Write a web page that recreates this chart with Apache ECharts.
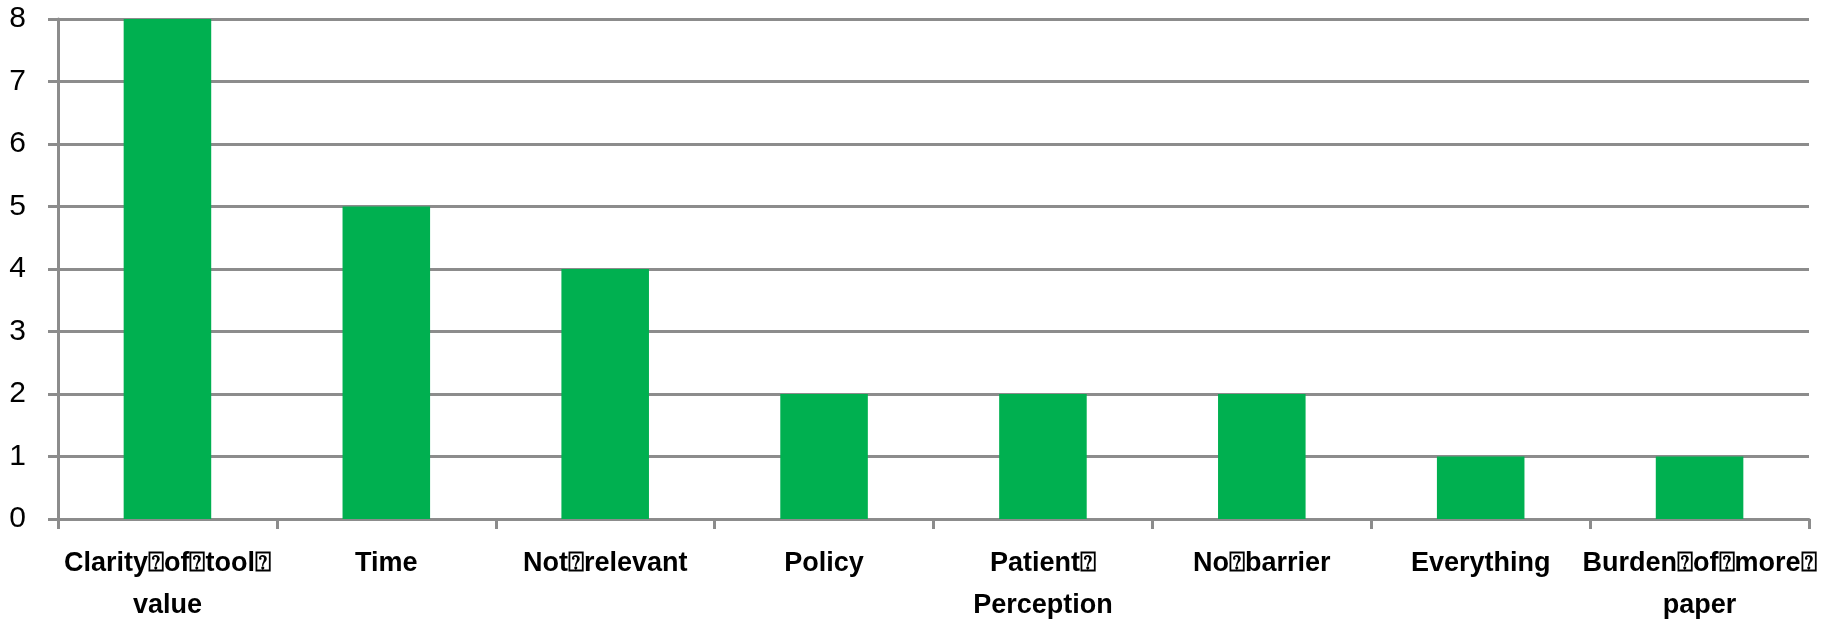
<!DOCTYPE html>
<html><head><meta charset="utf-8">
<script src="https://cdn.jsdelivr.net/npm/echarts@6/dist/echarts.min.js"></script>
<style>html,body{margin:0;padding:0;background:#fff}#c{width:1833px;height:622px}</style>
</head><body><div id="c"></div>
<script>
const categories = ["Clarity\u2370of\u2370tool\u2370\nvalue", "Time", "Not\u2370relevant", "Policy", "Patient\u2370\nPerception", "No\u2370barrier", "Everything", "Burden\u2370of\u2370more\u2370\npaper"];
const values = [8, 5, 4, 2, 2, 2, 1, 1];
const yTicks = {min: 0, max: 8, interval: 1};

const chart = echarts.init(document.getElementById('c'));
chart.setOption({
  animation: false,
  grid: {left: 58, right: 24, top: 19, bottom: 103, containLabel: false, outerBoundsMode: 'none'},
  xAxis: {
    type: 'category', data: categories,
    axisLine: {lineStyle: {color: '#8c8c8c', width: 3}},
    axisTick: {show: true, length: 10, lineStyle: {color: '#8c8c8c', width: 3}},
    axisLabel: {color: '#000', fontFamily: 'Liberation Sans, Arial, sans-serif', fontWeight: 'bold', fontSize: 27, margin: 24, lineHeight: 42, interval: 0}
  },
  yAxis: {
    type: 'value', min: yTicks.min, max: yTicks.max, interval: yTicks.interval,
    axisLine: {show: true, lineStyle: {color: '#8c8c8c', width: 3}},
    axisTick: {show: true, length: 10, lineStyle: {color: '#8c8c8c', width: 3}},
    splitLine: {lineStyle: {color: '#8c8c8c', width: 3}},
    axisLabel: {color: '#000', fontFamily: 'Liberation Sans, Arial, sans-serif', fontSize: 30, margin: 32}
  },
  series: [{type: 'bar', data: values, barWidth: '40%', itemStyle: {color: '#00B050'}}]
});
</script></body></html>
